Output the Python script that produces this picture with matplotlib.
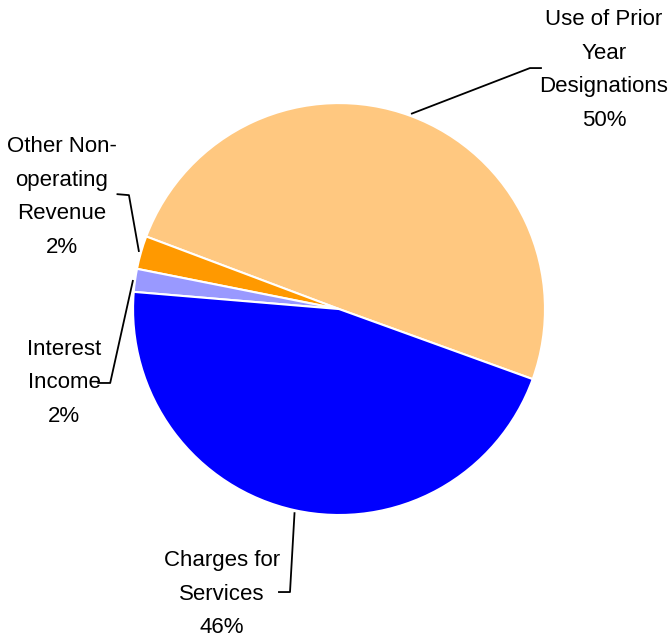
import numpy as np
import matplotlib
matplotlib.use("Agg")
import matplotlib.pyplot as plt

plt.rcParams['font.family'] = ['Liberation Sans', 'DejaVu Sans']

# Revenue sources (percent of total)
labels = ["Use of Prior\nYear\nDesignations", "Other Non-\noperating\nRevenue",
          "Interest\nIncome", "Charges for\nServices"]
shares = [49.8, 2.6, 1.8, 45.8]
shown_pct = ["50%", "2%", "2%", "46%"]
colors = ["#FFC880", "#FF9900", "#9999FF", "#0000FF"]

fig = plt.figure(figsize=(6.70, 6.43), dpi=100)
ax = fig.add_axes([0, 0, 1, 1])

wedges, _ = ax.pie(shares, colors=colors, startangle=-19.9, counterclock=True,
                   radius=1.0, center=(0, 0), frame=True,
                   wedgeprops=dict(edgecolor="white", linewidth=1.5))
ax.set_xlim(-1.646, 1.607)
ax.set_ylim(-1.621, 1.5)
ax.axis("off")

# label placement: (elbow point, end of leader, text centre)
layout = [
    ((0.927, 1.170), (0.985, 1.170), (1.286, 1.160)),
    ((-1.02, 0.553), (-1.08, 0.558), (-1.346, 0.544)),
    ((-1.111, -0.359), (-1.174, -0.359), (-1.335, -0.359)),
    ((-0.238, -1.374), (-0.296, -1.374), (-0.568, -1.384)),
]

for w, lab, pct, (elbow, end, txt) in zip(wedges, labels, shown_pct, layout):
    mid = np.deg2rad((w.theta1 + w.theta2) / 2)
    start = (1.01 * np.cos(mid), 1.01 * np.sin(mid))
    ax.plot([start[0], elbow[0], end[0]], [start[1], elbow[1], end[1]],
            color="black", linewidth=1.3, solid_capstyle="butt")
    ax.text(txt[0], txt[1], lab + "\n" + pct, ha="center", va="center",
            fontsize=16, linespacing=1.79, color="black")

fig.savefig("out.png", dpi=100)
